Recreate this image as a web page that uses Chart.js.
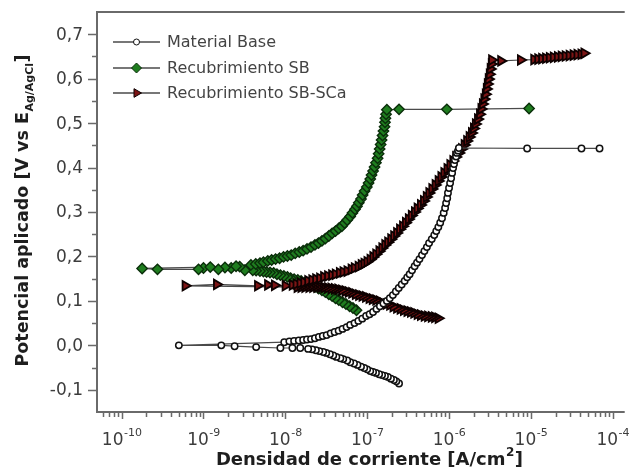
<!DOCTYPE html>
<html>
<head>
<meta charset="utf-8">
<script src="https://cdn.jsdelivr.net/npm/chart.js@4.4.1/dist/chart.umd.min.js"></script>
<style>
  html, body { margin: 0; padding: 0; background: #ffffff; }
  #wrap { width: 632px; height: 470px; }
</style>
</head>
<body>
<div id="wrap"><canvas id="c" width="632" height="470"></canvas></div>
<script>
// Series labels
const seriesNames = ['Material Base', 'Recubrimiento SB', 'Recubrimiento SB-SCa'];

// Material Base: current density [A/cm2] and potential [V], in scan order
const baseCurrent = [
  2.45e-7, 2.27e-7, 2.12e-7, 1.95e-7, 1.79e-7, 1.65e-7, 1.52e-7, 1.4e-7, 1.28e-7, 1.18e-7,
  1.09e-7, 1.0e-7, 9.2e-8, 8.4e-8, 7.6e-8, 6.9e-8, 6.2e-8, 5.7e-8, 5.1e-8, 4.7e-8,
  4.2e-8, 3.85e-8, 3.5e-8, 3.16e-8, 2.9e-8, 2.6e-8, 2.36e-8, 2.12e-8, 1.9e-8, 1.52e-8,
  1.22e-8, 8.7e-9, 4.4e-9, 2.4e-9, 1.65e-9, 5.0e-10,
  9.7e-9, 1.12e-8, 1.28e-8, 1.46e-8, 1.65e-8, 1.84e-8, 2.06e-8, 2.3e-8, 2.57e-8, 2.87e-8,
  3.2e-8, 3.58e-8, 4.0e-8, 4.48e-8, 5.0e-8, 5.6e-8, 6.2e-8, 7.0e-8, 7.8e-8, 8.7e-8,
  9.7e-8, 1.07e-7, 1.18e-7, 1.3e-7, 1.43e-7, 1.58e-7, 1.74e-7, 1.89e-7, 2.06e-7, 2.24e-7,
  2.43e-7, 2.64e-7, 2.87e-7, 3.08e-7, 3.3e-7, 3.53e-7, 3.8e-7, 4.06e-7, 4.35e-7, 4.67e-7,
  5.0e-7, 5.36e-7, 5.7e-7, 6.15e-7, 6.6e-7, 6.98e-7, 7.4e-7, 7.8e-7, 8.2e-7, 8.6e-7,
  8.95e-7, 9.2e-7, 9.5e-7, 9.7e-7, 1.0e-6, 1.03e-6, 1.06e-6, 1.09e-6, 1.12e-6, 1.15e-6,
  1.18e-6, 1.22e-6, 1.25e-6, 1.29e-6, 1.32e-6,
  9.0e-6, 4.15e-5, 6.9e-5
];
const basePotential = [
  -0.086, -0.081, -0.078, -0.075, -0.071, -0.069, -0.067, -0.065, -0.062, -0.060,
  -0.058, -0.054, -0.051, -0.048, -0.044, -0.041, -0.038, -0.034, -0.031, -0.029,
  -0.026, -0.023, -0.020, -0.017, -0.015, -0.013, -0.011, -0.009, -0.008, -0.006,
  -0.006, -0.006, -0.004, -0.002, 0.000, 0.000,
  0.007, 0.009, 0.010, 0.011, 0.012, 0.013, 0.014, 0.016, 0.019, 0.021,
  0.023, 0.027, 0.030, 0.033, 0.037, 0.041, 0.046, 0.050, 0.055, 0.060,
  0.066, 0.070, 0.075, 0.082, 0.088, 0.094, 0.100, 0.106, 0.113, 0.121,
  0.129, 0.137, 0.145, 0.153, 0.160, 0.169, 0.178, 0.186, 0.194, 0.203,
  0.212, 0.221, 0.230, 0.239, 0.248, 0.257, 0.266, 0.276, 0.286, 0.298,
  0.309, 0.320, 0.331, 0.343, 0.354, 0.365, 0.376, 0.388, 0.399, 0.408,
  0.417, 0.425, 0.433, 0.438, 0.444,
  0.443, 0.443, 0.443
];

// Recubrimiento SB
const sbCurrent = [
  7.4e-8, 6.7e-8, 6.1e-8, 5.5e-8, 5.0e-8, 4.5e-8, 4.1e-8, 3.73e-8, 3.4e-8, 3.08e-8,
  2.8e-8, 2.54e-8, 2.3e-8, 2.08e-8, 1.89e-8, 1.72e-8, 1.56e-8, 1.42e-8, 1.28e-8, 1.16e-8,
  1.06e-8, 9.6e-9, 8.7e-9, 7.9e-9, 7.2e-9, 6.5e-9, 5.9e-9, 5.4e-9, 4.9e-9, 4.4e-9,
  4.0e-9, 3.2e-9, 2.77e-9, 2.18e-9, 1.83e-9, 1.52e-9, 1.0e-9, 8.7e-10, 2.74e-10, 1.78e-10,
  1.21e-9, 2.5e-9, 3.8e-9, 4.35e-9, 4.9e-9, 5.4e-9, 6.1e-9, 6.8e-9, 7.6e-9, 8.5e-9,
  9.5e-9, 1.06e-8, 1.18e-8, 1.32e-8, 1.48e-8, 1.65e-8, 1.84e-8, 2.06e-8, 2.3e-8, 2.54e-8,
  2.8e-8, 3.08e-8, 3.4e-8, 3.73e-8, 4.1e-8, 4.48e-8, 4.9e-8, 5.3e-8, 5.7e-8, 6.2e-8,
  6.6e-8, 7.1e-8, 7.5e-8, 7.9e-8, 8.4e-8, 8.8e-8, 9.3e-8, 9.9e-8, 1.04e-7, 1.09e-7,
  1.13e-7, 1.18e-7, 1.23e-7, 1.28e-7, 1.34e-7, 1.38e-7, 1.42e-7, 1.46e-7, 1.5e-7, 1.54e-7,
  1.58e-7, 1.63e-7, 1.65e-7, 1.67e-7, 1.7e-7, 1.74e-7,
  2.45e-7, 9.4e-7, 9.5e-6
];
const sbPotential = [
  0.079, 0.084, 0.088, 0.093, 0.097, 0.102, 0.106, 0.111, 0.115, 0.120,
  0.124, 0.128, 0.131, 0.135, 0.138, 0.141, 0.145, 0.147, 0.149, 0.151,
  0.154, 0.156, 0.158, 0.160, 0.163, 0.164, 0.165, 0.166, 0.167, 0.168,
  0.169, 0.169, 0.177, 0.174, 0.175, 0.171, 0.174, 0.171, 0.171, 0.173,
  0.176, 0.178, 0.181, 0.183, 0.185, 0.187, 0.190, 0.192, 0.194, 0.196,
  0.199, 0.201, 0.203, 0.207, 0.210, 0.213, 0.217, 0.221, 0.226, 0.230,
  0.235, 0.240, 0.246, 0.252, 0.257, 0.263, 0.268, 0.275, 0.282, 0.290,
  0.298, 0.306, 0.313, 0.321, 0.329, 0.338, 0.347, 0.356, 0.365, 0.374,
  0.383, 0.392, 0.401, 0.411, 0.421, 0.431, 0.442, 0.452, 0.462, 0.472,
  0.482, 0.492, 0.502, 0.511, 0.520, 0.530,
  0.531, 0.531, 0.533
];

// Recubrimiento SB-SCa
const scaCurrent = [
  7.4e-7, 6.7e-7, 6.1e-7, 5.5e-7, 5.0e-7, 4.5e-7, 4.1e-7, 3.73e-7, 3.4e-7, 3.08e-7,
  2.79e-7, 2.54e-7, 2.3e-7, 2.08e-7, 1.89e-7, 1.72e-7, 1.56e-7, 1.42e-7, 1.28e-7, 1.16e-7,
  1.06e-7, 9.6e-8, 8.7e-8, 7.9e-8, 7.2e-8, 6.5e-8, 5.9e-8, 5.4e-8, 4.9e-8, 4.4e-8,
  4.0e-8, 3.63e-8, 3.3e-8, 2.99e-8, 2.7e-8, 2.43e-8, 2.17e-8, 1.95e-8, 1.74e-8, 1.56e-8,
  1.4e-8, 6.0e-10,
  1.45e-9, 4.6e-9, 6.1e-9, 7.4e-9, 1.0e-8, 1.22e-8, 1.36e-8, 1.52e-8, 1.69e-8, 1.89e-8,
  2.12e-8, 2.36e-8, 2.64e-8, 2.95e-8, 3.3e-8, 3.7e-8, 4.1e-8, 4.6e-8, 5.1e-8, 5.7e-8,
  6.4e-8, 7.0e-8, 7.8e-8, 8.5e-8, 9.2e-8, 1.0e-7, 1.09e-7, 1.18e-7, 1.28e-7, 1.4e-7,
  1.52e-7, 1.65e-7, 1.79e-7, 1.95e-7, 2.12e-7, 2.3e-7, 2.5e-7, 2.72e-7, 2.95e-7, 3.2e-7,
  3.48e-7, 3.8e-7, 4.1e-7, 4.5e-7, 4.9e-7, 5.3e-7, 5.7e-7, 6.2e-7, 6.8e-7, 7.4e-7,
  8.0e-7, 8.7e-7, 9.5e-7, 1.03e-6, 1.12e-6, 1.21e-6, 1.32e-6, 1.43e-6, 1.54e-6, 1.65e-6,
  1.77e-6, 1.89e-6, 2.0e-6, 2.11e-6, 2.24e-6, 2.37e-6, 2.47e-6, 2.57e-6, 2.68e-6, 2.79e-6,
  2.87e-6, 2.95e-6, 3.03e-6, 3.12e-6, 3.2e-6, 3.3e-6, 3.33e-6,
  4.3e-6, 7.5e-6, 1.09e-5, 1.22e-5, 1.36e-5, 1.52e-5, 1.69e-5, 1.89e-5, 2.12e-5, 2.36e-5,
  2.64e-5, 2.95e-5, 3.3e-5, 3.68e-5, 4.12e-5, 4.48e-5
];
const scaPotential = [
  0.061, 0.063, 0.064, 0.065, 0.066, 0.068, 0.070, 0.073, 0.075, 0.077,
  0.079, 0.082, 0.084, 0.087, 0.091, 0.093, 0.095, 0.099, 0.102, 0.104,
  0.106, 0.109, 0.111, 0.113, 0.115, 0.118, 0.120, 0.122, 0.124, 0.126,
  0.127, 0.128, 0.129, 0.130, 0.131, 0.131, 0.131, 0.131, 0.131, 0.131,
  0.131, 0.134,
  0.137, 0.134, 0.136, 0.135, 0.134, 0.136, 0.138, 0.140, 0.142, 0.145,
  0.147, 0.149, 0.151, 0.154, 0.156, 0.158, 0.160, 0.163, 0.165, 0.167,
  0.171, 0.174, 0.177, 0.181, 0.184, 0.188, 0.193, 0.199, 0.205, 0.212,
  0.219, 0.226, 0.232, 0.239, 0.246, 0.253, 0.261, 0.268, 0.276, 0.284,
  0.292, 0.300, 0.308, 0.316, 0.325, 0.334, 0.343, 0.352, 0.361, 0.370,
  0.379, 0.388, 0.397, 0.406, 0.415, 0.424, 0.433, 0.442, 0.451, 0.460,
  0.469, 0.478, 0.488, 0.498, 0.509, 0.520, 0.532, 0.543, 0.554, 0.565,
  0.577, 0.588, 0.599, 0.610, 0.622, 0.633, 0.642,
  0.640, 0.642, 0.643, 0.644, 0.645, 0.646, 0.647, 0.648, 0.649, 0.650,
  0.651, 0.652, 0.653, 0.654, 0.655, 0.657
];

// Axis ticks
const xDecades = [-10, -9, -8, -7, -6, -5, -4];
const yTicks = [-0.1, 0.0, 0.1, 0.2, 0.3, 0.4, 0.5, 0.6, 0.7];
const yMinorTicks = [-0.05, 0.05, 0.15, 0.25, 0.35, 0.45, 0.55, 0.65];

const X_MIN = 5e-11, X_MAX = 1.4e-4, Y_MIN = -0.15, Y_MAX = 0.75;
const AXIS_COLOR = '#6a6a6a';
const TEXT_COLOR = '#3c3c3c';
const FONT = '"DejaVu Sans", Verdana, sans-serif';

function pairs(xs, ys) { return xs.map((x, i) => ({ x: x, y: ys[i] })); }

const styles = [
  { pointStyle: 'circle', radius: 3.2, rotation: 0, fill: '#ffffff', stroke: '#111111', border: 1.5, legendRadius: 3 },
  { pointStyle: 'rectRot', radius: 5.2, rotation: 0, fill: '#1f7d1f', stroke: '#0a2e0a', border: 1.4, legendRadius: 5 },
  { pointStyle: 'triangle', radius: 5.5, rotation: 90, fill: '#7c1515', stroke: '#0e0101', border: 1.8, legendRadius: 5 }
];

function makeDataset(i, data, order) {
  const s = styles[i];
  return {
    label: seriesNames[i],
    data: data,
    showLine: true,
    borderColor: '#4a4a4a',
    borderWidth: 1.2,
    tension: 0,
    pointStyle: s.pointStyle,
    pointRotation: s.rotation,
    pointRadius: s.radius,
    pointBackgroundColor: s.fill,
    pointBorderColor: s.stroke,
    pointBorderWidth: s.border,
    order: order
  };
}

// Frame, ticks, tick labels, axis titles and legend
const decorations = {
  id: 'decorations',
  afterDraw(chart) {
    const ctx = chart.ctx;
    const a = chart.chartArea;
    const xs = chart.scales.x, ys = chart.scales.y;
    ctx.save();

    // axis lines (no right border)
    ctx.strokeStyle = AXIS_COLOR;
    ctx.lineWidth = 2;
    ctx.beginPath();
    ctx.moveTo(a.left, a.top); ctx.lineTo(a.right, a.top);
    ctx.moveTo(a.left, a.top - 1); ctx.lineTo(a.left, a.bottom + 1);
    ctx.moveTo(a.left - 1, a.bottom); ctx.lineTo(a.right, a.bottom);
    ctx.stroke();

    // x ticks
    ctx.lineWidth = 1.5;
    ctx.beginPath();
    for (let d = -11; d <= -4; d++) {
      for (let k = 1; k <= 9; k++) {
        const v = k * Math.pow(10, d);
        if (v < X_MIN * 1.0001 || v > X_MAX) continue;
        const px = Math.round(xs.getPixelForValue(v)) + 0.5;
        const len = k === 1 ? 7 : 5;
        ctx.moveTo(px, a.bottom); ctx.lineTo(px, a.bottom + len);
      }
    }
    // y ticks
    yTicks.forEach(v => {
      const py = Math.round(ys.getPixelForValue(v)) + 0.5;
      ctx.moveTo(a.left, py); ctx.lineTo(a.left - 9, py);
    });
    yMinorTicks.forEach(v => {
      const py = Math.round(ys.getPixelForValue(v)) + 0.5;
      ctx.moveTo(a.left, py); ctx.lineTo(a.left - 5, py);
    });
    ctx.stroke();

    // y tick labels
    ctx.fillStyle = TEXT_COLOR;
    ctx.font = '17px ' + FONT;
    ctx.textAlign = 'right';
    ctx.textBaseline = 'middle';
    yTicks.forEach(v => {
      const txt = v.toFixed(1).replace('.', ',');
      ctx.fillText(txt, a.left - 14, ys.getPixelForValue(v) + 1);
    });

    // x tick labels: 10 with superscript exponent
    ctx.textAlign = 'left';
    ctx.textBaseline = 'alphabetic';
    xDecades.forEach(d => {
      const px = xs.getPixelForValue(Math.pow(10, d));
      ctx.font = '17px ' + FONT;
      const wBase = ctx.measureText('10').width;
      ctx.font = '11px ' + FONT;
      const exp = String(d);
      const wExp = ctx.measureText(exp).width;
      const x0 = px - (wBase + wExp) / 2;
      ctx.font = '17px ' + FONT;
      ctx.fillText('10', x0, 445);
      ctx.font = '11px ' + FONT;
      ctx.fillText(exp, x0 + wBase + 0.5, 436);
    });

    // x axis title
    ctx.font = 'bold 18px ' + FONT;
    ctx.fillStyle = '#1e1e1e';
    const t1 = 'Densidad de corriente [A/cm', t2 = '2', t3 = ']';
    const w1 = ctx.measureText(t1).width;
    const w3 = ctx.measureText(t3).width;
    ctx.font = 'bold 12px ' + FONT;
    const w2 = ctx.measureText(t2).width;
    let tx = 369 - (w1 + w2 + w3) / 2;
    ctx.font = 'bold 18px ' + FONT;
    ctx.fillText(t1, tx, 465);
    ctx.font = 'bold 12px ' + FONT;
    ctx.fillText(t2, tx + w1 + 0.5, 456);
    ctx.font = 'bold 18px ' + FONT;
    ctx.fillText(t3, tx + w1 + w2 + 1, 465);

    // y axis title (rotated, with subscript)
    ctx.save();
    ctx.translate(28, 211);
    ctx.rotate(-Math.PI / 2);
    const y1 = 'Potencial aplicado [V vs E', y2 = 'Ag/AgCl', y3 = ']';
    ctx.font = 'bold 17.5px ' + FONT;
    const u1 = ctx.measureText(y1).width, u3 = ctx.measureText(y3).width;
    ctx.font = 'bold 11px ' + FONT;
    const u2 = ctx.measureText(y2).width;
    let ty = -(u1 + u2 + u3) / 2;
    ctx.font = 'bold 17.5px ' + FONT;
    ctx.fillText(y1, ty, 0);
    ctx.font = 'bold 11px ' + FONT;
    ctx.fillText(y2, ty + u1 + 0.5, 5);
    ctx.font = 'bold 17.5px ' + FONT;
    ctx.fillText(y3, ty + u1 + u2 + 1, 0);
    ctx.restore();

    // legend
    const legendY = [42, 68, 93];
    seriesNames.forEach((name, i) => {
      const ly = legendY[i];
      const s = styles[i];
      ctx.strokeStyle = '#4a4a4a';
      ctx.lineWidth = 1.5;
      ctx.beginPath();
      ctx.moveTo(113, ly); ctx.lineTo(160, ly);
      ctx.stroke();
      ctx.fillStyle = s.fill;
      ctx.strokeStyle = s.stroke;
      ctx.lineWidth = 1;
      Chart.helpers.drawPoint(ctx, { pointStyle: s.pointStyle, rotation: s.rotation, radius: s.legendRadius, borderWidth: 1 }, 136.5, ly);
      ctx.fillStyle = '#444444';
      ctx.font = '16px ' + FONT;
      ctx.textAlign = 'left';
      ctx.textBaseline = 'middle';
      ctx.fillText(name, 167, ly + 1);
    });

    ctx.restore();
  }
};

const whiteBg = {
  id: 'whiteBg',
  beforeDraw(chart) {
    const ctx = chart.ctx;
    ctx.save();
    ctx.fillStyle = '#ffffff';
    ctx.fillRect(0, 0, chart.width, chart.height);
    ctx.restore();
  }
};

new Chart(document.getElementById('c'), {
  type: 'scatter',
  data: {
    datasets: [
      makeDataset(0, pairs(baseCurrent, basePotential), 0),
      makeDataset(1, pairs(sbCurrent, sbPotential), 2),
      makeDataset(2, pairs(scaCurrent, scaPotential), 1)
    ]
  },
  options: {
    responsive: false,
    animation: false,
    devicePixelRatio: 1,
    layout: { padding: { left: 97, top: 12, right: 0, bottom: 58 } },
    scales: {
      x: { type: 'logarithmic', min: X_MIN, max: X_MAX, display: false },
      y: { type: 'linear', min: Y_MIN, max: Y_MAX, display: false }
    },
    plugins: {
      legend: { display: false },
      tooltip: { enabled: false }
    },
    clip: false
  },
  plugins: [whiteBg, decorations]
});
</script>
</body>
</html>
